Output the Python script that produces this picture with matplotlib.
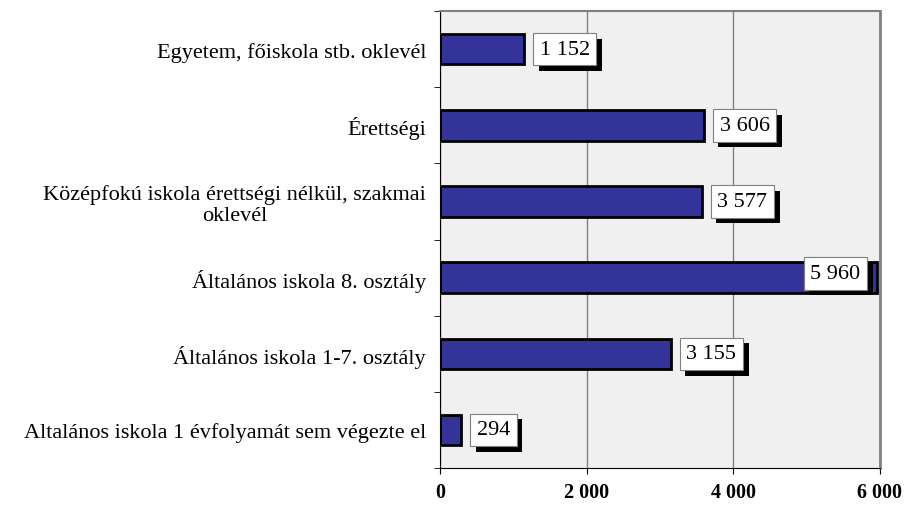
import matplotlib.pyplot as plt
import matplotlib.patheffects as pe
from matplotlib.ticker import FixedLocator, FuncFormatter

plt.rcParams['font.family'] = ['Liberation Serif', 'DejaVu Serif']

# Data (top to bottom as shown in the chart)
categories = ['Egyetem, főiskola stb. oklevél',
              'Érettségi',
              'Középfokú iskola érettségi nélkül, szakmai\noklevél',
              'Általános iskola 8. osztály',
              'Általános iskola 1-7. osztály',
              'Altalános iskola 1 évfolyamát sem végezte el']
values = [1152, 3606, 3577, 5960, 3155, 294]
value_labels = ['1 152', '3 606', '3 577', '5 960', '3 155', '294']

fig = plt.figure(figsize=(9.07, 5.06), dpi=100)
ax = fig.add_axes([0.485, 0.073, 0.485, 0.903])
ax.set_facecolor('#f0f0f0')

n = len(categories)
ypos = list(range(n - 1, -1, -1))
ax.barh(ypos, values, height=0.4, color='#333399', edgecolor='black', linewidth=2, zorder=3)

ax.set_xlim(0, 6000)
ax.set_ylim(-0.5, n - 0.5)
ax.set_xticks([0, 2000, 4000, 6000])
ax.xaxis.set_major_formatter(FuncFormatter(lambda v, p: f'{int(v):,}'.replace(',', ' ')))
for lab in ax.get_xticklabels():
    lab.set_fontweight('bold')
ax.tick_params(axis='x', labelsize=14.5, length=4, direction='out', pad=6)

ax.set_yticks(ypos)
ax.set_yticklabels(categories, fontsize=16, linespacing=1.1)
for lab in ax.get_yticklabels():
    lab.set_multialignment('center')
ax.tick_params(axis='y', which='major', length=0, pad=10)
ax.yaxis.set_minor_locator(FixedLocator([i - 0.5 for i in range(n + 1)]))
ax.tick_params(axis='y', which='minor', length=4)

ax.grid(axis='x', color='#808080', linewidth=1, zorder=0)
ax.spines['top'].set_color('#808080')
ax.spines['top'].set_linewidth(1.5)
ax.spines['bottom'].set_color('black')
ax.spines['left'].set_color('black')
ax.spines['right'].set_color('#808080')
ax.spines['right'].set_linewidth(2)

for y, v, txt in zip(ypos, values, value_labels):
    if v > 5000:
        t = ax.annotate(txt, xy=(6000, y), xytext=(-14, 3), textcoords='offset points',
                        ha='right', va='center', fontsize=16, zorder=5)
    else:
        t = ax.annotate(txt, xy=(v, y), xytext=(11, 0), textcoords='offset points',
                        ha='left', va='center', fontsize=16, zorder=5)
    t.set_bbox(dict(boxstyle='square,pad=0.3', facecolor='white', edgecolor='#808080', linewidth=0.8))
    t.get_bbox_patch().set_path_effects([
        pe.SimplePatchShadow(offset=(4, -4), shadow_rgbFace='black', alpha=1),
        pe.Normal()])

fig.savefig('out.png', dpi=100)
